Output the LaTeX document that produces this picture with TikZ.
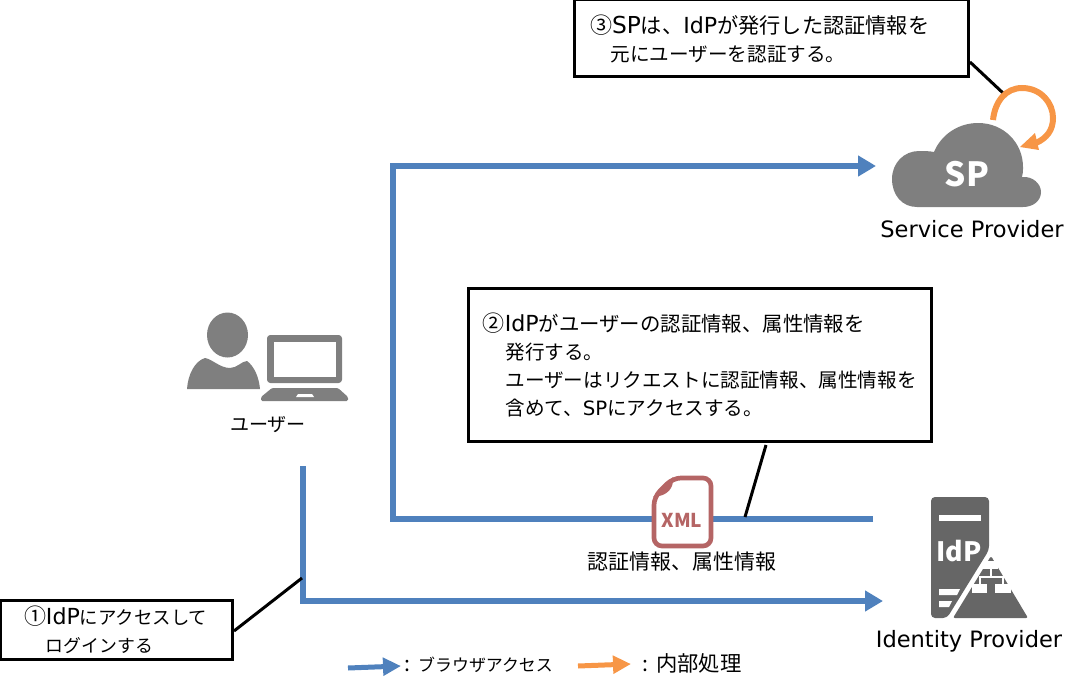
\documentclass[tikz,border=0pt]{standalone}
\usepackage{fontspec}
\setmainfont{Noto Sans CJK JP}
\newfontfamily\latinfont{DejaVu Sans}
\usetikzlibrary{arrows.meta}
\definecolor{flowblue}{HTML}{4F81BD}
\definecolor{procorange}{HTML}{F79646}
\definecolor{icongray}{HTML}{7F7F7F}
\definecolor{servergray}{HTML}{666666}
\definecolor{xmlred}{HTML}{B56565}
\newcommand{\jpsize}[1]{\fontsize{#1}{21pt}\selectfont}
\newcommand{\idword}{{\latinfont\fontsize{16.6pt}{21pt}\selectfont IdP}}
\newcommand{\spword}{{\latinfont\fontsize{14.8pt}{21pt}\selectfont SP}}
\newcommand{\spwordbig}{{\latinfont\fontsize{17.5pt}{21pt}\selectfont SP}}
\newcommand{\numbermark}[1]{{\fontsize{16.5pt}{21pt}\selectfont #1}}
\tikzset{
  x=0.75pt,y=-0.75pt,
  note/.style={draw=black,line width=2.25pt,fill=white,anchor=north west,align=left,outer sep=0pt,inner ysep=0pt,font=\jpsize{14.7pt}},
  lead/.style={draw=black,line width=2.25pt},
  flow/.style={draw=flowblue,line width=4.5pt,line join=miter,-{Triangle[length=13.5pt,width=15pt]}},
  caption/.style={inner sep=0pt,font=\jpsize{14.3pt}},
  entity/.style={inner sep=0pt,font=\latinfont\fontsize{16.9pt}{20pt}\selectfont},
  whitebold/.style={text=white,inner sep=0pt,font=\bfseries},
  iconfill/.style={fill=icongray,draw=none},
  serverfill/.style={fill=servergray,draw=none},
  hole/.style={fill=white,draw=none},
  legendarrow/.style={line width=3.75pt,-{Triangle[length=13.5pt,width=13pt]}},
}
\begin{document}
\begin{tikzpicture}
\useasboundingbox (0,0) rectangle (1078,692);
% named ends
\coordinate (userstart) at (303,466);
\coordinate (userturn) at (303,601);
\coordinate (idptip) at (883,601);
\coordinate (idpback) at (873,519);
\coordinate (leftlow) at (393,519);
\coordinate (lefttop) at (393,166);
\coordinate (sptip) at (876,166);
\coordinate (leadA) at (302,578);
\coordinate (leadB) at (745,517);
\coordinate (leadBtop) at (766,445);
\coordinate (leadC) at (1003,93);
\coordinate (leadCtop) at (970,62);
\coordinate (leadAend) at (234,631);
\coordinate (legBa) at (348,668);
\coordinate (legBb) at (401,666);
\coordinate (legOa) at (578,666);
\coordinate (legOb) at (631,664);
% flows
\draw[flow] (idpback) -- (leftlow) -- (lefttop) -- (sptip);
\draw[flow] (userstart) -- (userturn) -- (idptip);
% leads
\draw[lead] (leadA) -- (leadAend);
\draw[lead] (leadBtop) -- (leadB);
\draw[lead] (leadCtop) -- (leadC);
% boxes
\node[note,minimum width=294pt,minimum height=57.75pt,text width=272pt,inner xsep=12pt] (boxthree) at (574,0)
  {\rule{0pt}{14pt}\numbermark{③}\spwordbig{\jpsize{15.9pt}は、}\idword{\jpsize{15.9pt}が発行した認証情報を}\\\hspace*{15.5pt}元にユーザーを認証する。};
\node[note,minimum width=347.25pt,minimum height=114.75pt,text width=325pt,inner xsep=11pt] (boxtwo) at (468,288)
  {\rule{0pt}{13.5pt}\numbermark{②}\idword{\jpsize{15.3pt}がユーザーの認証情報、属性情報を}\\\hspace*{17pt}発行する。\\\hspace*{17pt}ユーザーはリクエストに認証情報、属性情報を\\\hspace*{17pt}含めて、\spword にアクセスする。};
\node[note,minimum width=174pt,minimum height=44.25pt,text width=158pt,inner xsep=8pt,font=\jpsize{13.4pt}] (boxone) at (0,600)
  {\rule{0pt}{15pt}\hspace*{10pt}\numbermark{①}\idword{\jpsize{13.8pt}にアクセスして}\\\hspace*{26.5pt}ログインする};
% cloud
\path[iconfill] (917,207) .. controls (902,207) and (892,195) .. (892,179)
  .. controls (892,163) and (904,151) .. (919,151)
  .. controls (924,151) and (929,151) .. (934,152)
  .. controls (941,135) and (958,123) .. (978,123)
  .. controls (1004,123) and (1023,143) .. (1023,167)
  .. controls (1023,171) and (1023,174) .. (1022,177)
  .. controls (1033,176) and (1041,184) .. (1041,192)
  .. controls (1041,201) and (1033,207) .. (1023,207) -- cycle;
\node[whitebold,font=\bfseries\fontsize{25pt}{27pt}\selectfont] (sptext) at (967,174) {SP};
% orange loop
\draw[procorange,line width=4.5pt] (993,120) .. controls (995,101) and (1006,88) .. (1022,88)
  .. controls (1041,88) and (1053,103) .. (1053,118)
  .. controls (1053,130) and (1047,138) .. (1036,143);
\path[fill=procorange] (1020,147) -- (1035,133) -- (1039,150) -- cycle;
\node[entity] (splabel) at (972,229) {Service Provider};
% user
\path[iconfill] (227.5,335) ellipse [x radius=20.5,y radius=22.5];
\path[iconfill] (187,389) .. controls (188,374) and (195,361) .. (205,358)
  .. controls (212,359) and (220,368) .. (230,368)
  .. controls (237,368) and (242,361) .. (247,361)
  .. controls (254,366) and (259,377) .. (260,389) -- cycle;
\path[iconfill,rounded corners=2.5pt] (267,335) rectangle (342,383);
\path[hole] (274,342) rectangle (336,377);
\path[iconfill,rounded corners=1pt] (272,388) -- (338,388) -- (348,397) -- (348,401) -- (261,401) -- (261,397) -- cycle;
\path[hole] (298,394) -- (312,394) -- (314,397) -- (296,397) -- cycle;
\node[caption] (userlabel) at (268,425) {ユーザー};
% xml icon
\draw[xmlred,fill=white,line width=3.5pt,rounded corners=6pt] (654,497) -- (654,546) -- (711,546) -- (711,478) -- (673,478) -- cycle;
\path[fill=xmlred] (653,497) -- (673,477) .. controls (674,488) and (668,496) .. (653,497) -- cycle;
\node[inner sep=0pt,text=xmlred,font=\bfseries\fontsize{14.3pt}{16pt}\selectfont] (xmltext) at (682,520) {XML};
\node[caption,font=\jpsize{15.7pt}] (xmllabel) at (682,562) {認証情報、属性情報};
% server
\path[serverfill,rounded corners=3pt] (931,618) -- (931,497) -- (989,497) -- (989,550) -- (947,618) -- cycle;
\path[hole] (939,515) rectangle (981,521);
\path[hole] (939,589) -- (960,589) -- (957,595) -- (939,595) -- cycle;
\path[hole] (939,601) -- (952,601) -- (949,607) -- (939,607) -- cycle;
\node[whitebold,font=\bfseries\fontsize{20pt}{22pt}\selectfont] (idptext) at (959,551) {IdP};
\path[serverfill,rounded corners=1.5pt] (991,556) -- (1028,618) -- (953,618) -- cycle;
\path[hole] (983,561) rectangle (998,569);
\path[hole] (972,584) rectangle (987,593);
\path[hole] (995,584) rectangle (1011,593);
\draw[white,line width=1.5pt] (990.5,569) -- (990.5,577) (979.5,584) -- (979.5,577) -- (1003,577) -- (1003,584);
\node[entity] (idplabel) at (969,641) {Identity Provider};
% legend
\draw[draw=flowblue,legendarrow] (legBa) -- (legBb);
\draw[draw=procorange,legendarrow] (legOa) -- (legOb);
\node[caption,anchor=west,font=\jpsize{12.7pt}] (legbluetext) at (404,665) {{\fontsize{16pt}{21pt}\selectfont :}\hspace{6pt}ブラウザアクセス};
\node[caption,anchor=west,font=\jpsize{16pt}] (legorangetext) at (642,663) {:\hspace{6pt}内部処理};
\end{tikzpicture}
\end{document}
